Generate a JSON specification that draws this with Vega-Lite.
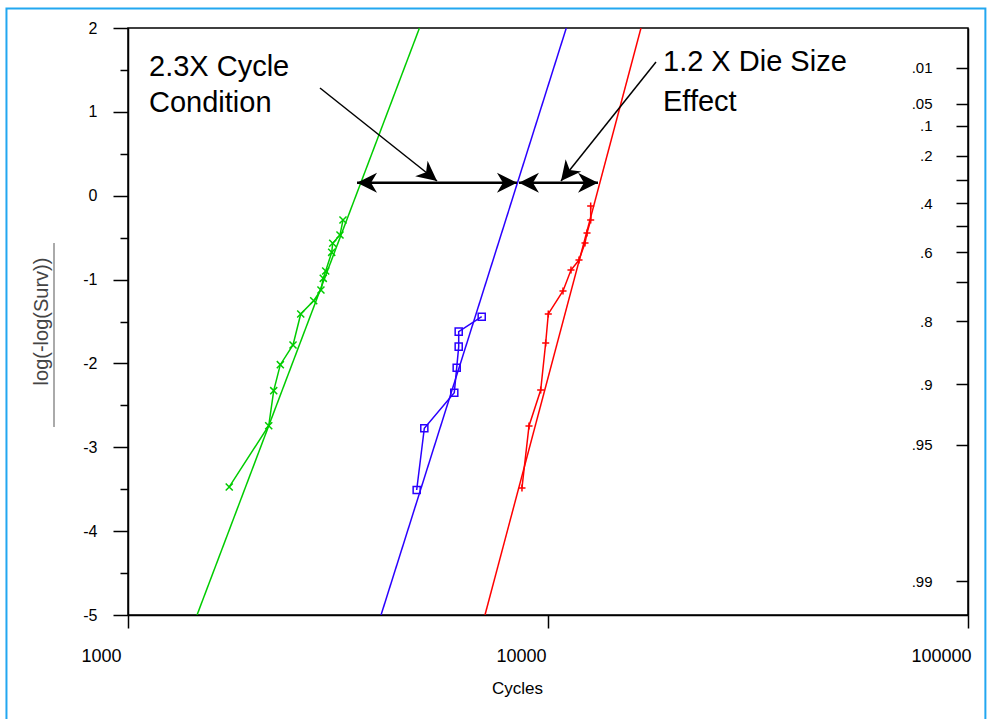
{
  "$schema": "https://vega.github.io/schema/vega-lite/v6.json",
  "width": 840,
  "height": 587,
  "autosize": "none",
  "padding": {"left": 128, "top": 28, "right": 22, "bottom": 104},
  "background": "white",
  "config": {
    "view": {"stroke": "black", "strokeWidth": 1.5},
    "font": "Liberation Sans",
    "axis": {
      "domainColor": "black", "tickColor": "black", "labelColor": "black",
      "domainWidth": 1.5, "tickWidth": 1.5, "grid": false,
      "labelFont": "Liberation Sans", "titleFont": "Liberation Sans",
      "titleFontWeight": "normal", "labelOverlap": false, "labelFlush": false
    }
  },
  "datasets": {
    "fits": [
      {"series": "green", "cycles": 1460, "y": -5},
      {"series": "green", "cycles": 4943, "y": 2},
      {"series": "blue", "cycles": 4004, "y": -5},
      {"series": "blue", "cycles": 11055, "y": 2},
      {"series": "red", "cycles": 7079, "y": -5},
      {"series": "red", "cycles": 16648, "y": 2}
    ],
    "obs": [
      {"series": "green", "cycles": 1742, "y": -3.473},
      {"series": "green", "cycles": 2163, "y": -2.743},
      {"series": "green", "cycles": 2223, "y": -2.325},
      {"series": "green", "cycles": 2305, "y": -2.015},
      {"series": "green", "cycles": 2471, "y": -1.78},
      {"series": "green", "cycles": 2578, "y": -1.41},
      {"series": "green", "cycles": 2768, "y": -1.252},
      {"series": "green", "cycles": 2880, "y": -1.124},
      {"series": "green", "cycles": 2917, "y": -0.985},
      {"series": "green", "cycles": 2956, "y": -0.898},
      {"series": "green", "cycles": 3055, "y": -0.675},
      {"series": "green", "cycles": 3072, "y": -0.567},
      {"series": "green", "cycles": 3197, "y": -0.468},
      {"series": "green", "cycles": 3250, "y": -0.29},
      {"series": "blue", "cycles": 4868, "y": -3.509},
      {"series": "blue", "cycles": 5076, "y": -2.773},
      {"series": "blue", "cycles": 5982, "y": -2.349},
      {"series": "blue", "cycles": 6062, "y": -2.051},
      {"series": "blue", "cycles": 6129, "y": -1.8},
      {"series": "blue", "cycles": 6129, "y": -1.621},
      {"series": "blue", "cycles": 6953, "y": -1.443},
      {"series": "red", "cycles": 8670, "y": -3.485},
      {"series": "red", "cycles": 9011, "y": -2.746},
      {"series": "red", "cycles": 9608, "y": -2.317},
      {"series": "red", "cycles": 9874, "y": -1.756},
      {"series": "red", "cycles": 10016, "y": -1.41},
      {"series": "red", "cycles": 10857, "y": -1.136},
      {"series": "red", "cycles": 11343, "y": -0.886},
      {"series": "red", "cycles": 11852, "y": -0.767},
      {"series": "red", "cycles": 12249, "y": -0.564},
      {"series": "red", "cycles": 12385, "y": -0.445},
      {"series": "red", "cycles": 12637, "y": -0.29},
      {"series": "red", "cycles": 12637, "y": -0.123}
    ],
    "arrows": [
      {"cycles": 3510, "cycles2": 8435, "y": 0.155, "y2": 0.155, "w": "thick"},
      {"cycles": 8528, "cycles2": 13153, "y": 0.155, "y2": 0.155, "w": "thick"},
      {"cycles": 2865, "cycles2": 5442, "y": 1.2845, "y2": 0.1755, "w": "thin"},
      {"cycles": 18077, "cycles2": 10738, "y": 1.5946, "y2": 0.1755, "w": "thin"}
    ],
    "heads": [
      {"cycles": 3510, "y": 0.155, "angle": 180},
      {"cycles": 8435, "y": 0.155, "angle": 0},
      {"cycles": 8528, "y": 0.155, "angle": 180},
      {"cycles": 13153, "y": 0.155, "angle": 0},
      {"cycles": 5442, "y": 0.1755, "angle": 38.5},
      {"cycles": 10738, "y": 0.1755, "angle": 128.6}
    ],
    "notes": [
      {"label": "2.3X Cycle", "cycles": 1122, "y": 1.535},
      {"label": "Condition", "cycles": 1122, "y": 1.106},
      {"label": "1.2 X Die Size", "cycles": 18785, "y": 1.595},
      {"label": "Effect", "cycles": 18785, "y": 1.118}
    ],
    "frame": [
      {"cycles": 513.6, "cycles2": 110000, "y": 2.2325, "y2": -7}
    ],
    "titlebar": [
      {"cycles": 666.6, "y": -0.564, "y2": -2.758}
    ]
  },
  "layer": [
    {
      "data": {"name": "fits"},
      "mark": {"type": "line", "strokeWidth": 1.5, "clip": true},
      "encoding": {
        "x": {
          "field": "cycles", "type": "quantitative",
          "scale": {"type": "log", "domain": [1000, 100000]},
          "axis": {
            "title": "Cycles", "values": [1000, 10000, 100000],
            "labelExpr": "'' + datum.value",
            "tickSize": 13, "labelFontSize": 18, "labelOffset": -27, "labelPadding": 19,
            "titleFontSize": 17, "titleX": 389, "titleY": 73, "titleBaseline": "middle"
          }
        },
        "y": {
          "field": "y", "type": "quantitative",
          "scale": {"domain": [-5, 2], "nice": false, "zero": false},
          "axis": {
            "orient": "left",
            "title": "log(-log(Surv))",
            "values": [-5, -4.5, -4, -3.5, -3, -2.5, -2, -1.5, -1, -0.5, 0, 0.5, 1, 1.5, 2],
            "labelExpr": "datum.value % 1 === 0 ? '' + datum.value : ''",
            "tickSize": {"condition": {"test": "datum.value % 1 === 0", "value": 15}, "value": 8},
            "labelPadding": 16, "labelFontSize": 16,
            "titleFontSize": 20, "titleColor": "#444", "titleX": -87, "titleY": 293,
            "titleBaseline": "middle", "titleAlign": "center"
          }
        },
        "color": {
          "field": "series", "type": "nominal",
          "scale": {"domain": ["green", "blue", "red"], "range": ["#00cc00", "#2a00ff", "#ff0000"]},
          "legend": null
        }
      }
    },
    {
      "data": {"name": "obs"},
      "mark": {"type": "line", "strokeWidth": 1.5},
      "encoding": {
        "x": {"field": "cycles", "type": "quantitative", "axis": null},
        "y": {
          "field": "y", "type": "quantitative",
          "axis": {
            "orient": "right", "title": null,
            "values": [1.52718, 1.09719, 0.834032, 0.475885, 0.185627, -0.087422, -0.366513, -0.671727, -1.03093, -1.49994, -2.250367, -2.970195, -4.600149],
            "labelExpr": "indexof([0.3, 0.5, 0.7], round(exp(-exp(datum.value)) * 100) / 100) >= 0 ? '' : replace('' + round(exp(-exp(datum.value)) * 100) / 100, '0.', '.')",
            "tickSize": -12, "labelPadding": -24, "labelAlign": "right",
            "labelFontSize": 15, "domain": true
          }
        },
        "color": {"field": "series", "type": "nominal", "legend": null},
        "order": {"field": "y", "type": "quantitative"}
      }
    },
    {
      "data": {"name": "obs"},
      "mark": {"type": "point", "filled": false, "strokeWidth": 1.5, "size": 50, "opacity": 1},
      "encoding": {
        "x": {"field": "cycles", "type": "quantitative", "axis": null},
        "y": {"field": "y", "type": "quantitative", "axis": null},
        "color": {"field": "series", "type": "nominal", "legend": null},
        "shape": {
          "field": "series", "type": "nominal", "legend": null,
          "scale": {"domain": ["green", "blue", "red"], "range": ["M-1,-1L1,1M-1,1L1,-1", "M-1,-1L1,-1L1,1L-1,1Z", "M-1,0L1,0M0,-1L0,1"]}
        }
      }
    },
    {
      "data": {"name": "arrows"},
      "mark": {"type": "rule", "color": "black"},
      "encoding": {
        "x": {"field": "cycles", "type": "quantitative", "axis": null},
        "x2": {"field": "cycles2"},
        "y": {"field": "y", "type": "quantitative", "axis": null},
        "y2": {"field": "y2"},
        "strokeWidth": {"field": "w", "type": "nominal", "scale": {"domain": ["thick", "thin"], "range": [2.5, 1.5]}, "legend": null}
      }
    },
    {
      "data": {"name": "heads"},
      "mark": {"type": "point", "filled": true, "color": "black", "opacity": 1, "size": 400, "shape": "M0,0L-2,-1L-1.4,0L-2,1Z"},
      "encoding": {
        "x": {"field": "cycles", "type": "quantitative", "axis": null},
        "y": {"field": "y", "type": "quantitative", "axis": null},
        "angle": {"field": "angle", "type": "quantitative", "scale": null}
      }
    },
    {
      "data": {"name": "notes"},
      "mark": {"type": "text", "align": "left", "baseline": "middle", "fontSize": 29, "font": "Liberation Sans", "color": "black"},
      "encoding": {
        "x": {"field": "cycles", "type": "quantitative", "axis": null},
        "y": {"field": "y", "type": "quantitative", "axis": null},
        "text": {"field": "label"}
      }
    },
    {
      "data": {"name": "frame"},
      "mark": {"type": "rect", "fillOpacity": 0, "stroke": "#22a7f0", "strokeWidth": 2},
      "encoding": {
        "x": {"field": "cycles", "type": "quantitative", "axis": null},
        "x2": {"field": "cycles2"},
        "y": {"field": "y", "type": "quantitative", "axis": null},
        "y2": {"field": "y2"}
      }
    },
    {
      "data": {"name": "titlebar"},
      "mark": {"type": "rule", "color": "#aaaaaa", "strokeWidth": 2},
      "encoding": {
        "x": {"field": "cycles", "type": "quantitative", "axis": null},
        "y": {"field": "y", "type": "quantitative", "axis": null},
        "y2": {"field": "y2"}
      }
    }
  ],
  "resolve": {"axis": {"x": "independent", "y": "independent"}}
}
